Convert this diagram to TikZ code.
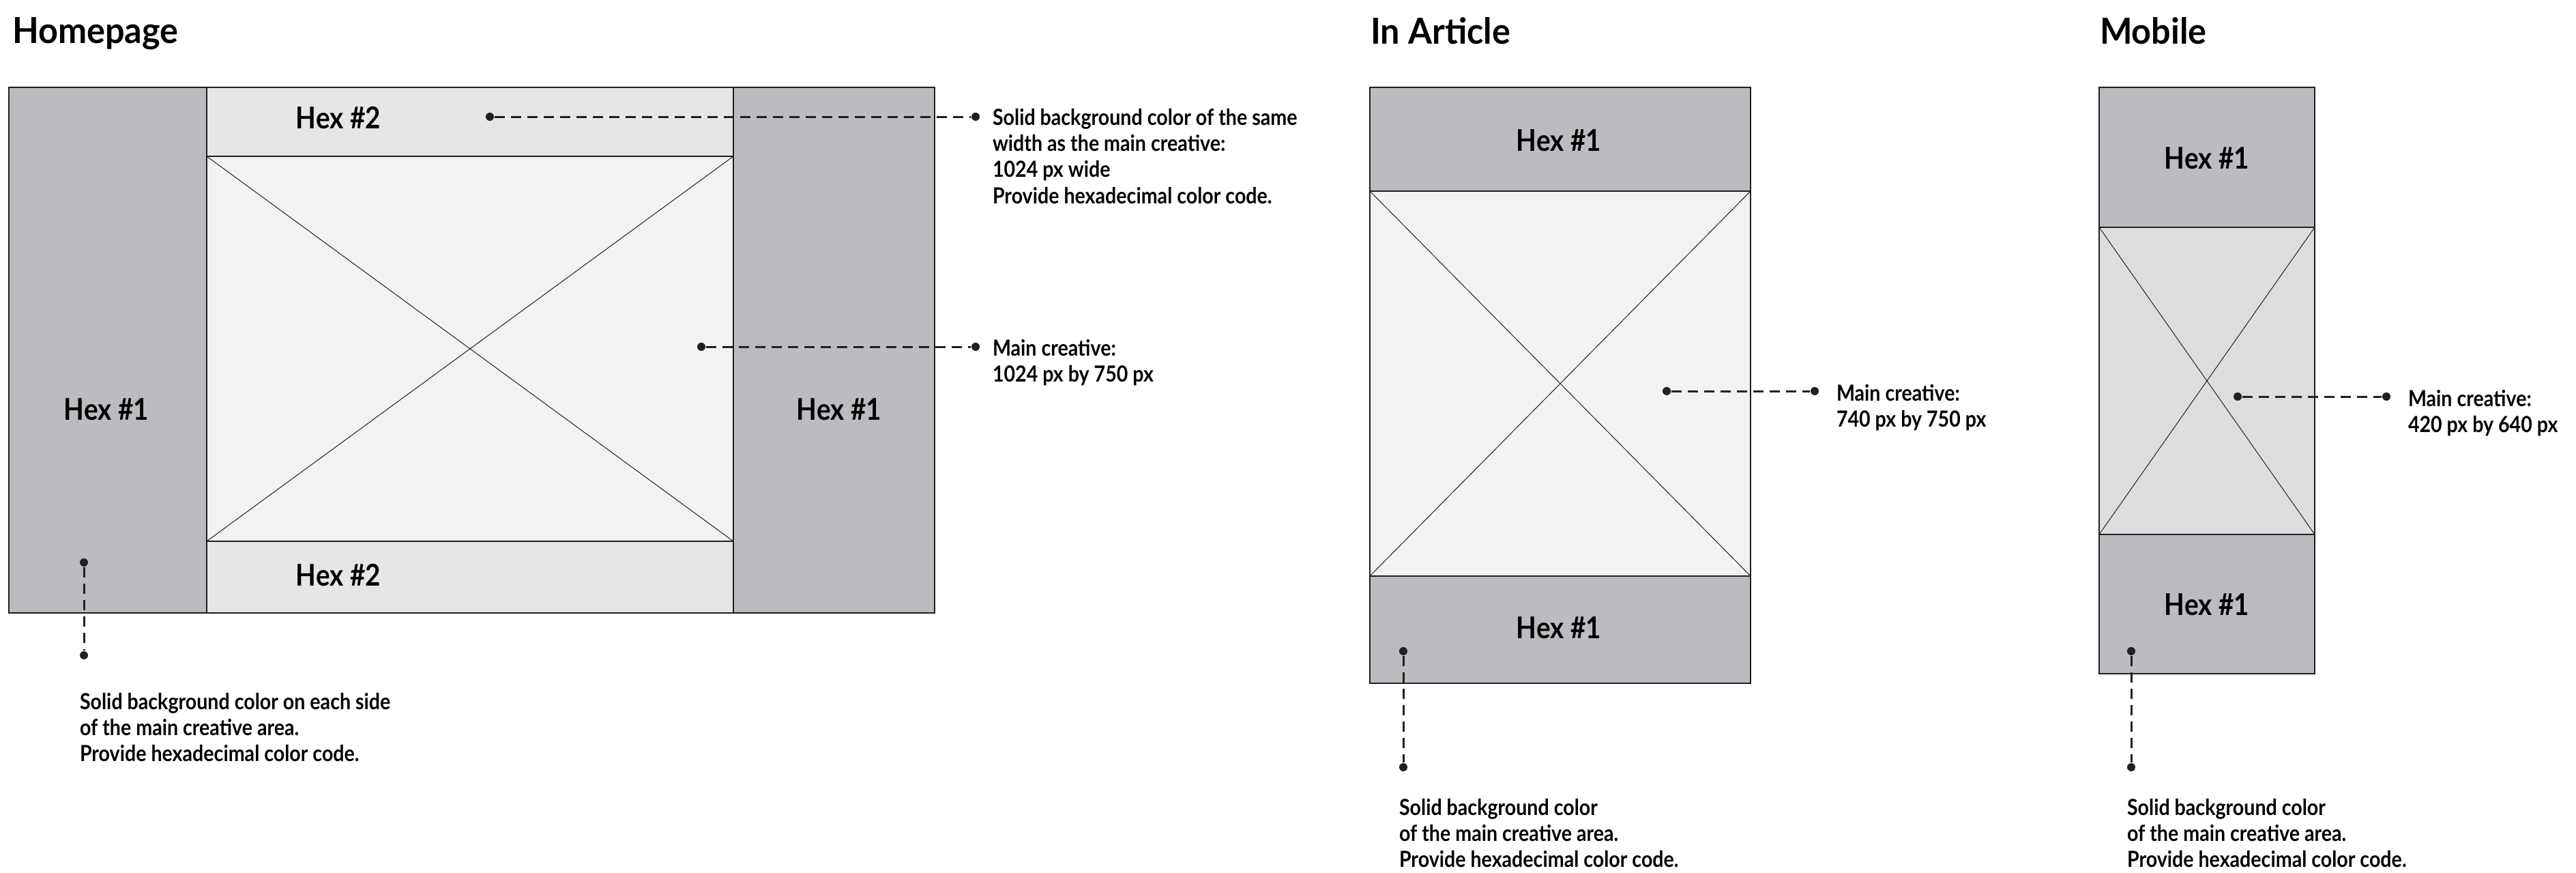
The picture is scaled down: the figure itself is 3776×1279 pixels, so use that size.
\documentclass[tikz,border=0pt]{standalone}
\usepackage{fontspec}
\setmainfont{Lato}[FakeStretch=0.88]
\newfontfamily\headfont{Lato}[FakeStretch=0.96]
\usepackage{tikz}

\definecolor{sidegrey}{HTML}{BBBCBF}
\definecolor{bandgrey}{HTML}{E5E6E8}
\definecolor{papergrey}{HTML}{F1F2F3}
\definecolor{mobgrey}{HTML}{DCDDDF}
\definecolor{ink}{HTML}{231F20}

\tikzset{
  frame/.style={draw=ink, line width=0.55pt},
  cross/.style={draw=ink, line width=0.2pt},
  leader/.style={draw=ink, line width=0.6pt, dash pattern=on 3pt off 1.8pt},
  dot/.style={circle, fill=ink, inner sep=0pt, minimum size=2.4pt},
  title/.style={anchor=base west, inner sep=0pt, font=\headfont\fontsize{10.5}{12}\selectfont\bfseries},
  hexlabel/.style={inner sep=0pt, font=\fontsize{8.8}{10}\selectfont\bfseries},
  note/.style={anchor=north west, inner sep=0pt, align=left, font=\fontsize{6.5}{7.67}\selectfont\bfseries},
}

\begin{document}
\begin{tikzpicture}[x=0.2pt,y=0.2pt,yscale=-1,xscale=1]
\useasboundingbox (0,0) rectangle (3776,1279);

%Homepage
%Shape: Rectangle
\draw [frame, fill=sidegrey] (13,128) rectangle (303,898);
\draw [frame, fill=sidegrey] (1075,128) rectangle (1370,898);
\draw [frame, fill=bandgrey] (303,128) rectangle (1075,229);
\draw [frame, fill=bandgrey] (303,793) rectangle (1075,898);
\draw [frame, fill=papergrey] (303,229) rectangle (1075,793);
%Straight Lines
\draw [cross] (303,229) -- (1075,793) (303,793) -- (1075,229);

% Text Node
\node [title] (hpTitle) at (17,64) {Homepage};
\node [hexlabel] (hpBandTop) at (496,173) {Hex \#2};
\node [hexlabel] (hpBandBot) at (496,843) {Hex \#2};
\node [hexlabel] (hpSideL) at (156,600) {Hex \#1};
\node [hexlabel] (hpSideR) at (1230,600) {Hex \#1};

\node [dot] (hpBandDot) at (718,171) {};
\node [dot] (hpBandEnd) at (1430,171) {};
\node [dot] (hpMainDot) at (1028,508) {};
\node [dot] (hpMainEnd) at (1430,508) {};
\node [dot] (hpSideDot) at (123,824) {};
\node [dot] (hpSideEnd) at (123,960) {};
\draw [leader] (hpBandDot) -- (hpBandEnd);
\draw [leader] (hpMainDot) -- (hpMainEnd);
\draw [leader] (hpSideDot) -- (hpSideEnd);

\node [note] (hpBandNote) at (1454,158) {Solid background color of the same\\width as the main creative:\\1024 px wide\\Provide hexadecimal color code.};
\node [note] (hpMainNote) at (1454,496) {Main creative:\\1024 px by 750 px};
\node [note] (hpSideNote) at (116,1014) {Solid background color on each side\\of the main creative area.\\Provide hexadecimal color code.};

%In Article
%Shape: Rectangle
\draw [frame, fill=sidegrey] (2008,128) rectangle (2566,280);
\draw [frame, fill=papergrey] (2008,280) rectangle (2566,844);
\draw [frame, fill=sidegrey] (2008,844) rectangle (2566,1001);
%Straight Lines
\draw [cross] (2008,280) -- (2566,844) (2008,844) -- (2566,280);

% Text Node
\node [title] (iaTitle) at (2008,65) {In Article};
\node [hexlabel] (iaHexTop) at (2285,206) {Hex \#1};
\node [hexlabel] (iaHexBot) at (2285,920) {Hex \#1};

\node [dot] (iaMainDot) at (2443,573) {};
\node [dot] (iaMainEnd) at (2660,573) {};
\node [dot] (iaBgDot) at (2057,954) {};
\node [dot] (iaBgEnd) at (2057,1124) {};
\draw [leader] (iaMainDot) -- (iaMainEnd);
\draw [leader] (iaBgDot) -- (iaBgEnd);

\node [note] (iaMainNote) at (2691,562) {Main creative:\\740 px by 750 px};
\node [note] (iaBgNote) at (2050,1169) {Solid background color\\of the main creative area.\\Provide hexadecimal color code.};

%Mobile
%Shape: Rectangle
\draw [frame, fill=sidegrey] (3077,128) rectangle (3393,333);
\draw [frame, fill=mobgrey] (3077,333) rectangle (3393,783);
\draw [frame, fill=sidegrey] (3077,783) rectangle (3393,987);
%Straight Lines
\draw [cross] (3077,333) -- (3393,783) (3077,783) -- (3393,333);

% Text Node
\node [title] (mbTitle) at (3077,65) {Mobile};
\node [hexlabel] (mbHexTop) at (3235,232) {Hex \#1};
\node [hexlabel] (mbHexBot) at (3235,886) {Hex \#1};

\node [dot] (mbMainDot) at (3280,581) {};
\node [dot] (mbMainEnd) at (3498,581) {};
\node [dot] (mbBgDot) at (3124,954) {};
\node [dot] (mbBgEnd) at (3124,1124) {};
\draw [leader] (mbMainDot) -- (mbMainEnd);
\draw [leader] (mbBgDot) -- (mbBgEnd);

\node [note] (mbMainNote) at (3529,570) {Main creative:\\420 px by 640 px};
\node [note] (mbBgNote) at (3117,1169) {Solid background color\\of the main creative area.\\Provide hexadecimal color code.};

\end{tikzpicture}
\end{document}
